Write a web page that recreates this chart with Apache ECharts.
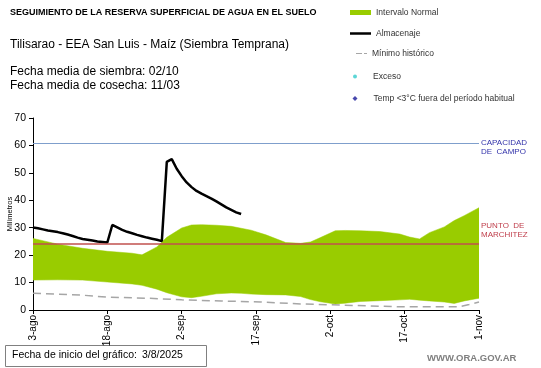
<!DOCTYPE html>
<html>
<head>
<meta charset="utf-8">
<script src="https://cdn.jsdelivr.net/npm/echarts@6/dist/echarts.min.js"></script>
<style>
html,body{margin:0;padding:0;background:#fff;}
#chart{width:541px;height:368px;}
</style>
</head>
<body>
<div id="chart"></div>
<script>
// x values are days since 3-ago-2025
const tickLabels = ['3-ago','18-ago','2-sep','17-sep','2-oct','17-oct','1-nov'];

const almDays = [0,1,2,3,4,5,6,7,8,9,10,11,12,13,14,15,16,17,18,19,20,21,22,23,24,25,26,27,28,29,30,31,32,33,34,35,36,37,38,39,40,41,42];
const almacenaje = [30.1,29.8,29.4,29.0,28.7,28.4,28.0,27.5,27.0,26.4,25.9,25.6,25.3,25.0,24.8,24.6,31.0,30.1,29.2,28.5,28.0,27.4,26.9,26.4,26.0,25.6,25.1,54.0,55.0,51.5,48.8,46.5,44.8,43.4,42.4,41.5,40.6,39.6,38.5,37.4,36.5,35.6,35.0];

const bandDays  = [0,5,10,15,20,22,25,27,30,32,34,37,40,42,44,47,51,54,56,58,61,63,66,70,74,76,78,80,83,85,87,90];
const bandUpper = [26.1,24.0,22.5,21.4,20.7,20.1,23.0,26.5,29.9,31.0,31.1,30.9,30.5,29.8,29.1,27.4,24.6,24.3,24.8,26.4,28.9,29.0,28.9,28.6,27.7,26.6,25.9,28.2,30.3,32.6,34.4,37.3];
const bandLower = [10.9,11.0,10.9,10.2,9.5,9.0,7.6,6.3,4.8,4.5,5.0,5.9,6.2,6.1,5.8,5.6,5.5,4.9,3.8,3.0,2.2,2.5,3.1,3.4,3.7,3.9,3.6,3.3,2.9,2.4,3.3,4.3];

const minDays = [0,10,15,23,30,38,46,54,62,68,74,82,86,88,90];
const minHist = [6.1,5.4,4.7,4.3,3.7,3.3,2.9,2.2,1.8,1.5,1.2,1.2,1.2,2.0,2.9];

const capacidadCampo = 60.8;
const puntoMarchitez = 24.1;

const excesoData = [];
const tempData = [];

const FONT = 'Liberation Sans, Arial, sans-serif';

const chart = echarts.init(document.getElementById('chart'), null, {renderer:'canvas'});

const legendBase = {
  orient:'horizontal', padding:0, itemGap:0, selectedMode:false,
  textStyle:{fontFamily:FONT, fontSize:8.5, color:'#333'}
};

function renderBand(params, api){
  const pts = [];
  for (let i=0;i<bandDays.length;i++) pts.push(api.coord([bandDays[i], bandUpper[i]]));
  for (let i=bandDays.length-1;i>=0;i--) pts.push(api.coord([bandDays[i], bandLower[i]]));
  return {type:'polygon', shape:{points:pts}, style:{fill:'#99cc00', stroke:'#99cc00', lineWidth:0.5}};
}

chart.setOption({
  animation:false,
  textStyle:{fontFamily:FONT},
  title:[
    {text:'SEGUIMIENTO DE LA RESERVA SUPERFICIAL DE AGUA EN EL SUELO', left:10, top:8, padding:0,
     textStyle:{fontFamily:FONT, fontSize:9, fontWeight:'bold', color:'#000'}},
    {text:'Tilisarao - EEA San Luis - Maíz (Siembra Temprana)', left:10, top:38, padding:0,
     textStyle:{fontFamily:FONT, fontSize:12, fontWeight:'normal', color:'#000', lineHeight:14}},
    {text:'Fecha media de siembra: 02/10\nFecha media de cosecha: 11/03', left:10, top:65, padding:0,
     textStyle:{fontFamily:FONT, fontSize:12, fontWeight:'normal', color:'#000', lineHeight:14}},
    {text:'WWW.ORA.GOV.AR', left:427, top:353, padding:0,
     textStyle:{fontFamily:FONT, fontSize:9.5, fontWeight:'bold', color:'#7f7f7f'}}
  ],
  legend:[
    Object.assign({}, legendBase, {left:350, top:8, itemWidth:21, itemHeight:5,
      data:[{name:'Intervalo Normal', icon:'rect'}]}),
    Object.assign({}, legendBase, {left:350, top:29, itemWidth:21, itemHeight:2.5,
      data:[{name:'Almacenaje', icon:'rect'}]}),
    Object.assign({}, legendBase, {left:356, top:49, itemWidth:11, itemHeight:1.5,
      data:[{name:'Mínimo histórico', icon:'path://M0,0H6V1H0Z M8,0H11V1H8Z'}]}),
    Object.assign({}, legendBase, {left:353, top:72, itemWidth:4, itemHeight:4,
      textStyle:Object.assign({}, legendBase.textStyle, {padding:[0,0,0,11]}),
      data:[{name:'Exceso', icon:'circle'}]}),
    Object.assign({}, legendBase, {left:352.5, top:94, itemWidth:5, itemHeight:5,
      textStyle:Object.assign({}, legendBase.textStyle, {padding:[0,0,0,11]}),
      data:[{name:'Temp <3°C fuera del período habitual', icon:'diamond'}]})
  ],
  grid:{left:33, right:62, top:118, bottom:58, containLabel:false, outerBoundsMode:'none'},
  xAxis:{
    type:'value', min:0, max:90, interval:15,
    axisLine:{show:true, lineStyle:{color:'#000', width:1}},
    axisTick:{show:true, length:4, lineStyle:{color:'#000'}},
    splitLine:{show:false},
    axisLabel:{rotate:90, fontSize:10, color:'#000', fontFamily:FONT, margin:5,
      formatter:(v)=>tickLabels[Math.round(v/15)] || ''}
  },
  yAxis:{
    type:'value', min:0, max:70, interval:10,
    name:'Milímetros', nameLocation:'middle', nameGap:19, nameRotate:90, nameMoveOverlap:false,
    nameTextStyle:{fontSize:7.5, color:'#000', fontFamily:FONT},
    axisLine:{show:true, lineStyle:{color:'#000', width:1}},
    axisTick:{show:true, length:4, lineStyle:{color:'#000'}},
    splitLine:{show:false},
    axisLabel:{fontSize:10.5, color:'#000', fontFamily:FONT, margin:7}
  },
  series:[
    {name:'Intervalo Normal', type:'custom', renderItem:renderBand, data:[[0]],
     itemStyle:{color:'#99cc00'}, silent:true, z:1, clip:true},
    {name:'Mínimo histórico', type:'line', data:minDays.map((d,i)=>[d,minHist[i]]), symbol:'none',
     color:'#a6a6a6', itemStyle:{color:'#a6a6a6'}, lineStyle:{color:'#a6a6a6', width:1.5, type:[8,5]}, z:3,
     markLine:{
       silent:true, symbol:['none','none'],
       data:[
         {yAxis:capacidadCampo, lineStyle:{color:'#7f9fcc', width:1, type:'solid'},
          label:{show:true, position:'end', distance:2, formatter:' \nCAPACIDAD\nDE  CAMPO',
            color:'#3333aa', fontSize:8, lineHeight:9, fontFamily:FONT, align:'left'}},
         {yAxis:puntoMarchitez, lineStyle:{color:'rgba(192,80,77,0.75)', width:2, type:'solid'},
          label:{show:true, position:'end', distance:2, formatter:'PUNTO  DE\nMARCHITEZ\n \n \n ',
            color:'#c0404d', fontSize:8, lineHeight:9, fontFamily:FONT, align:'left'}}
       ]
     }},
    {name:'Almacenaje', type:'line', data:almDays.map((d,i)=>[d,almacenaje[i]]), symbol:'none',
     color:'#000', itemStyle:{color:'#000'}, lineStyle:{color:'#000', width:2.5}, z:4},
    {name:'Exceso', type:'scatter', data:excesoData, symbol:'circle', symbolSize:4, itemStyle:{color:'#33cccc'}},
    {name:'Temp <3°C fuera del período habitual', type:'scatter', data:tempData, symbol:'diamond',
     symbolSize:5, itemStyle:{color:'#1a1a99'}}
  ],
  graphic:[
    {type:'rect', left:5, top:345, shape:{width:201, height:21}, style:{fill:'#fff', stroke:'#808080', lineWidth:1}},
    {type:'text', left:12, top:350, style:{text:'Fecha de inicio del gráfico:', font:'10.5px Liberation Sans', fill:'#000'}},
    {type:'text', left:142, top:350, style:{text:'3/8/2025', font:'10.5px Liberation Sans', fill:'#000'}}
  ]
});
</script>
</body>
</html>
